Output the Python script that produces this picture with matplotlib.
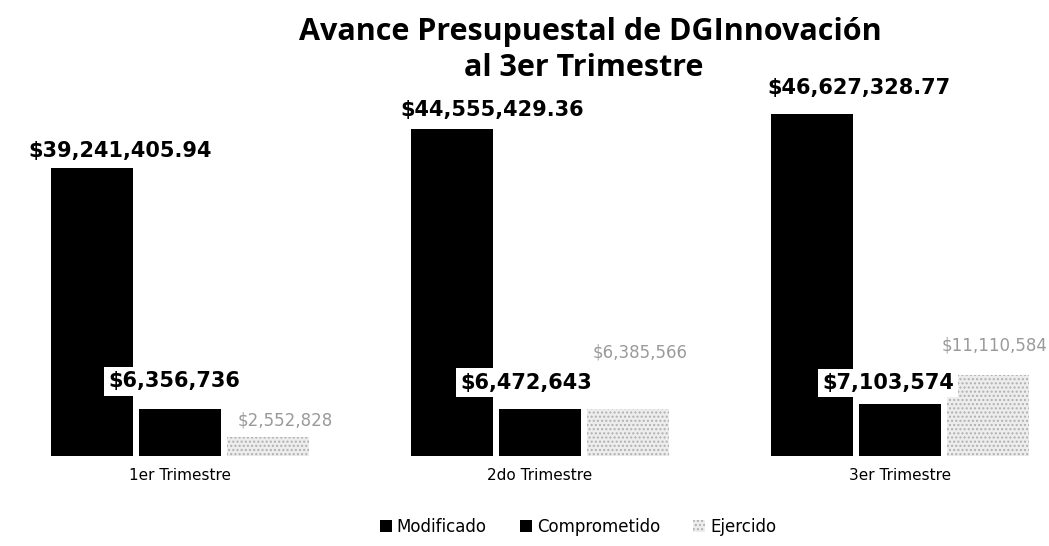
import matplotlib.pyplot as plt
import numpy as np

trimestres = ["1er Trimestre", "2do Trimestre", "3er Trimestre"]
modificado = [39241405.94, 44555429.36, 46627328.77]
comprometido = [6356736, 6472643, 7103574]
ejercido = [2552828, 6385566, 11110584]

# desplazamiento de etiquetas (pixeles) respecto al centro/tope de cada barra
off_mod = [(28, 17), (40, 19), (47, 26)]
off_com = [(-6, 28), (-14, 26), (-12, 21)]
off_eje = [(17, 17), (12, 57), (7, 29)]

plt.rcParams["font.family"] = ["DejaVu Sans"]

fig = plt.figure(figsize=(10.49, 5.46), dpi=100)
ax = fig.add_axes([20 / 1049, 90 / 546, 1020 / 1049, 356 / 546])

x = np.arange(len(trimestres))
w = 0.228
step = 0.244
ax.bar(x - step, modificado, w, color="black", label="Modificado")
ax.bar(x, comprometido, w, color="black", label="Comprometido")
ax.bar(x + step, ejercido, w, color="#ededed", edgecolor="#b0b0b0",
       hatch="....", linewidth=0, label="Ejercido")

ax.set_xlim(-160 / 360, 860 / 360)
ax.set_ylim(0, 48.57e6)

for i in x:
    ax.annotate(f"${modificado[i]:,.2f}", (i - step, modificado[i]),
                xytext=off_mod[i], textcoords="offset pixels",
                ha="center", va="center", fontsize=15, fontweight="bold")
    ax.annotate(f"${comprometido[i]:,.0f}", (i, comprometido[i]),
                xytext=off_com[i], textcoords="offset pixels",
                ha="center", va="center", fontsize=15, fontweight="bold",
                bbox=dict(boxstyle="square,pad=0.2", fc="white", ec="none"))
    ax.annotate(f"${ejercido[i]:,.0f}", (i + step, ejercido[i]),
                xytext=off_eje[i], textcoords="offset pixels",
                ha="center", va="center", fontsize=12, color="#9a9a9a")

ax.set_xticks(x)
ax.set_xticklabels(trimestres, fontsize=11)
ax.tick_params(axis="x", length=0, pad=9)
ax.set_yticks([])
for s in ax.spines.values():
    s.set_visible(False)

title_font = dict(ha="center", va="center", fontsize=22, fontweight="bold",
                  family=["Open Sans", "DejaVu Sans"])
fig.text(0.563, 1 - 32 / 546, "Avance Presupuestal de DGInnovación", **title_font)
fig.text(0.556, 1 - 68 / 546, "al 3er Trimestre", **title_font)

fig.legend(loc="center", bbox_to_anchor=(0.551, 0.035), ncol=3, frameon=False,
           fontsize=12, handlelength=0.7, handleheight=0.7, handletextpad=0.3,
           columnspacing=2.0)

fig.savefig("out.png", dpi=100)
